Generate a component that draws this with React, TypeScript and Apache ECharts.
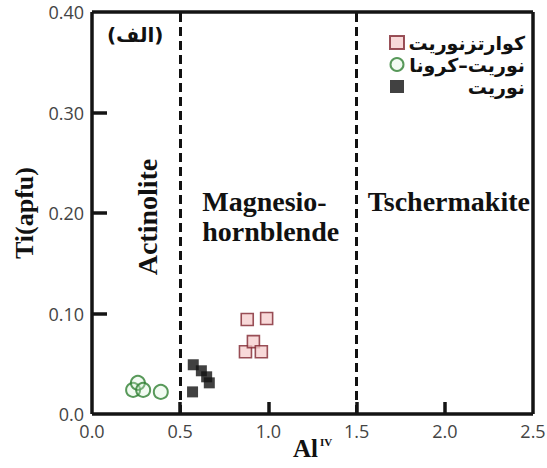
import React, { useEffect, useRef } from "react";
import * as echarts from "echarts";

// ---- data ----
const seriesNames = ["کوارتزنوریت", "نوریت–کرونا", "نوریت"];
const quartzNoriteX = [0.88, 0.99, 0.87, 0.915, 0.96];
const quartzNoriteY = [0.094, 0.095, 0.062, 0.072, 0.062];
const noriteCoronaX = [0.233, 0.26, 0.29, 0.39];
const noriteCoronaY = [0.024, 0.031, 0.024, 0.022];
const noriteX = [0.574, 0.62, 0.65, 0.665, 0.57];
const noriteY = [0.049, 0.043, 0.037, 0.031, 0.022];
const boundaries = [0.5, 1.5];
const xTickValues = [0.5, 1.0, 1.5, 2.0];
const yTickValues = [0.1, 0.2, 0.3];
const xRange = [0, 2.5];
const yRange = [0, 0.4];
const regionNames = ["Actinolite", "Magnesio-\nhornblende", "Tschermakite", "(الف)"];
const regionAnchorX = [0.315, 0.625, 1.5625, 0.245];
const regionAnchorY = [0.196, 0.197, 0.211, 0.377];

const zip = (xs: number[], ys: number[]) => xs.map((x, i) => [x, ys[i]]);

export default function App() {
  const ref = useRef<HTMLDivElement>(null);
  useEffect(() => {
    if (!ref.current) return;
    const chart = echarts.init(ref.current, null, { renderer: "svg" });
    const serif = "'Liberation Serif', 'Times New Roman', serif";
    const persian = "'DejaVu Sans', sans-serif";
    const sans = "'Open Sans', sans-serif";
    const ink = "#111";
    chart.setOption({
      animation: false,
      backgroundColor: "#fff",
      grid: {
        left: 92,
        right: 14,
        top: 12,
        bottom: 54,
        outerBoundsMode: "none",
        show: false,
      },
      legend: {
        orient: "vertical",
        right: 17,
        top: 28,
        align: "left",
        itemGap: 3,
        itemWidth: 14,
        itemHeight: 13,
        formatter: (name: string) => `{t|${name}}`,
        textStyle: {
          rich: {
            t: {
              fontFamily: persian,
              fontWeight: "bold",
              fontSize: 19,
              lineHeight: 28,
              color: ink,
              width: 116,
              align: "right",
            },
          },
        },
        data: seriesNames,
      },
      xAxis: {
        type: "value",
        min: xRange[0],
        max: xRange[1],
        interval: 0.5,
        name: "{a|Al}{b|IV}",
        nameLocation: "middle",
        nameGap: 22,
        nameMoveOverlap: false,
        nameTextStyle: {
          rich: {
            a: { fontFamily: serif, fontWeight: "bold", fontSize: 25, color: ink },
            b: { fontFamily: serif, fontWeight: "bold", fontSize: 11, color: ink, verticalAlign: "top", padding: [0, 0, 12, 2] },
          },
        },
        axisLine: { show: false },
        axisTick: { show: false },
        axisLabel: {
          fontFamily: sans,
          fontSize: 18,
          color: "#444",
          margin: 8,
          formatter: (v: number) => v.toFixed(1),
        },
        splitLine: { show: false },
      },
      yAxis: {
        type: "value",
        min: yRange[0],
        max: yRange[1],
        interval: 0.1,
        name: "Ti(apfu)",
        nameLocation: "middle",
        nameGap: 40,
        nameTextStyle: { fontFamily: serif, fontWeight: "bold", fontSize: 26, color: ink },
        axisLine: { show: false },
        axisTick: { show: false },
        axisLabel: {
          fontFamily: sans,
          fontSize: 18,
          color: "#444",
          margin: 8,
          formatter: (v: number) => (v === 0 ? "0.0" : v.toFixed(2)),
        },
        splitLine: { show: false },
      },
      series: [
        {
          name: seriesNames[0],
          type: "scatter",
          symbol: "rect",
          symbolSize: 12,
          itemStyle: { color: "#f6cfcf", borderColor: "#7f2630", borderWidth: 1.6 },
          data: zip(quartzNoriteX, quartzNoriteY),
          z: 3,
          markLine: {
            silent: true,
            symbol: "none",
            label: { show: false },
            lineStyle: { color: ink, width: 3, type: [9, 5] },
            data: boundaries.map((b) => ({ xAxis: b })),
          },
        },
        {
          name: seriesNames[1],
          type: "scatter",
          symbol: "circle",
          symbolSize: 14,
          itemStyle: { color: "rgba(210,240,210,0.35)", borderColor: "#2f7f32", borderWidth: 2 },
          data: zip(noriteCoronaX, noriteCoronaY),
          z: 3,
        },
        {
          name: seriesNames[2],
          type: "scatter",
          symbol: "rect",
          symbolSize: 11,
          itemStyle: { color: ink },
          data: zip(noriteX, noriteY),
          z: 3,
        },
      ],
    });

    const toPx = (x: number, y: number) =>
      chart.convertToPixel({ xAxisIndex: 0, yAxisIndex: 0 }, [x, y]) as number[];
    const fromPx = (px: number, py: number) =>
      chart.convertFromPixel({ xAxisIndex: 0, yAxisIndex: 0 }, [px, py]) as number[];

    const [x0px, y0px] = toPx(xRange[0], yRange[0]);
    const yTickEnd = fromPx(x0px, y0px - 12)[1];
    const xTickEnd = fromPx(x0px + 15, y0px)[0];

    const frameLines = [
      { xAxis: xRange[0] },
      { xAxis: xRange[1] },
      { yAxis: yRange[0] },
      { yAxis: yRange[1] },
    ];
    const xTickSegs = xTickValues.map((v) => [
      { coord: [v, yRange[0]] },
      { coord: [v, yTickEnd] },
    ]);
    const yTickSegs = yTickValues.map((v) => [
      { coord: [xRange[0], v] },
      { coord: [xTickEnd, v] },
    ]);

    const texts = regionNames.map((name, i) => {
      const [px, py] = toPx(regionAnchorX[i], regionAnchorY[i]);
      const isPersian = i === 3;
      return {
        type: "text",
        x: px,
        y: py,
        rotation: i === 0 ? Math.PI / 2 : 0,
        style: {
          text: name,
          fontFamily: isPersian ? persian : serif,
          fontWeight: "bold",
          fontSize: isPersian ? 20 : 28,
          lineHeight: 30,
          fill: ink,
          align: i === 1 || i === 2 ? "left" : "center",
          verticalAlign: "middle",
        },
        z: 10,
      };
    });

    chart.setOption({
      series: [
        {},
        {},
        {
          markLine: {
            silent: true,
            symbol: "none",
            label: { show: false },
            lineStyle: { color: "#141414", width: 3.5, type: "solid" },
            data: [...frameLines, ...xTickSegs, ...yTickSegs],
          },
        },
      ],
      graphic: texts,
    });

    return () => chart.dispose();
  }, []);
  return <div ref={ref} style={{ position: "fixed", left: 0, top: 0, width: 547, height: 468 }} />;
}
